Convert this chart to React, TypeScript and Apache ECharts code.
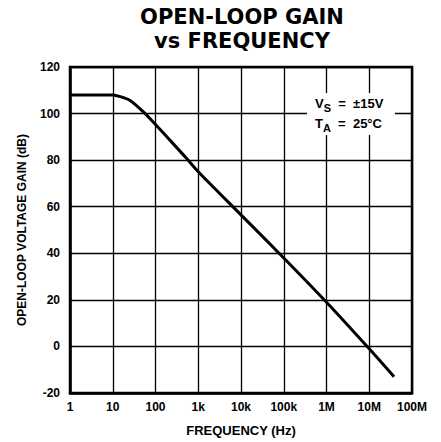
import React, { useEffect, useRef } from "react";
import * as echarts from "echarts";

const frequencies = [1, 5, 10, 15, 25, 52, 100, 200, 500, 1000, 10000, 100000, 1000000, 10000000, 38000000];
const gainDb = [108, 108, 108, 107.3, 105.7, 100.7, 95.3, 89.3, 81.3, 75, 56.5, 38, 19, -1, -13];
const xTickLabels: Record<string, string> = {
  "1": "1",
  "10": "10",
  "100": "100",
  "1000": "1k",
  "10000": "10k",
  "100000": "100k",
  "1000000": "1M",
  "10000000": "10M",
  "100000000": "100M",
};
const yTicks = { min: -20, max: 120, interval: 20 };

const FONT = "'Liberation Sans', Arial, Helvetica, sans-serif";
const TITLE_FONT = "'DejaVu Sans', 'Liberation Sans', sans-serif";

export default function App() {
  const ref = useRef<HTMLDivElement>(null);
  useEffect(() => {
    if (!ref.current) return;
    const chart = echarts.init(ref.current, undefined, { renderer: "svg" });
    const data = frequencies.map((f, i) => [f, gainDb[i]]);
    chart.setOption({
      animation: false,
      backgroundColor: "#fff",
      title: {
        text: "OPEN-LOOP GAIN\nvs FREQUENCY",
        left: 237,
        top: 0,
        textAlign: "center",
        textStyle: {
          fontFamily: TITLE_FONT,
          fontSize: 21,
          fontWeight: 900,
          color: "#000",
          lineHeight: 24,
        },
      },
      grid: {
        left: 70,
        right: 29,
        top: 67,
        bottom: 48,
        show: true,
        borderColor: "#000",
        borderWidth: 2.5,
        backgroundColor: "transparent",
      },
      xAxis: {
        type: "log",
        logBase: 10,
        min: 1,
        max: 100000000,
        name: "FREQUENCY (Hz)",
        nameLocation: "middle",
        nameGap: 31,
        nameTextStyle: { fontFamily: FONT, fontSize: 13, fontWeight: "bold", color: "#000" },
        axisLine: { show: true, onZero: false, lineStyle: { color: "#000", width: 2.5 } },
        axisTick: { show: false },
        minorTick: { show: false },
        axisLabel: {
          margin: 8,
          fontFamily: FONT,
          fontSize: 12,
          fontWeight: "bold",
          color: "#000",
          formatter: (v: number) => xTickLabels[String(Math.round(v))] ?? "",
        },
        splitLine: { show: true, lineStyle: { color: "#000", width: 1.3 } },
      },
      yAxis: {
        type: "value",
        min: yTicks.min,
        max: yTicks.max,
        interval: yTicks.interval,
        name: "OPEN-LOOP VOLTAGE GAIN (dB)",
        nameLocation: "middle",
        nameGap: 42,
        nameTextStyle: { fontFamily: FONT, fontSize: 12, fontWeight: "bold", color: "#000" },
        axisLine: { show: true, onZero: false, lineStyle: { color: "#000", width: 2.5 } },
        axisTick: { show: false },
        axisLabel: {
          margin: 10,
          fontFamily: FONT,
          fontSize: 12,
          fontWeight: "bold",
          color: "#000",
        },
        splitLine: { show: true, lineStyle: { color: "#000", width: 1.3 } },
      },
      series: [
        {
          type: "line",
          data,
          smooth: 0.3,
          showSymbol: false,
          symbol: "none",
          lineStyle: { color: "#000", width: 3 },
          z: 5,
        },
      ],
      graphic: [
        {
          type: "rect",
          shape: { x: 307, y: 93, width: 88, height: 42 },
          style: { fill: "#fff" },
          z: 10,
        },
        {
          type: "text",
          x: 315,
          y: 93,
          z: 11,
          style: {
            text: "V{sub|S}  =  ±15V\nT{sub|A}  =  25°C",
            fontFamily: FONT,
            fontSize: 13,
            fontWeight: "bold",
            fill: "#000",
            rich: {
              sub: {
                fontFamily: FONT,
                fontSize: 11,
                fontWeight: "bold",
                fill: "#000",
                verticalAlign: "bottom",
                lineHeight: 20,
              },
            },
          },
        },
      ],
    });
    return () => chart.dispose();
  }, []);
  return <div ref={ref} style={{ width: 441, height: 442, position: "absolute", left: 0, top: 0 }} />;
}
